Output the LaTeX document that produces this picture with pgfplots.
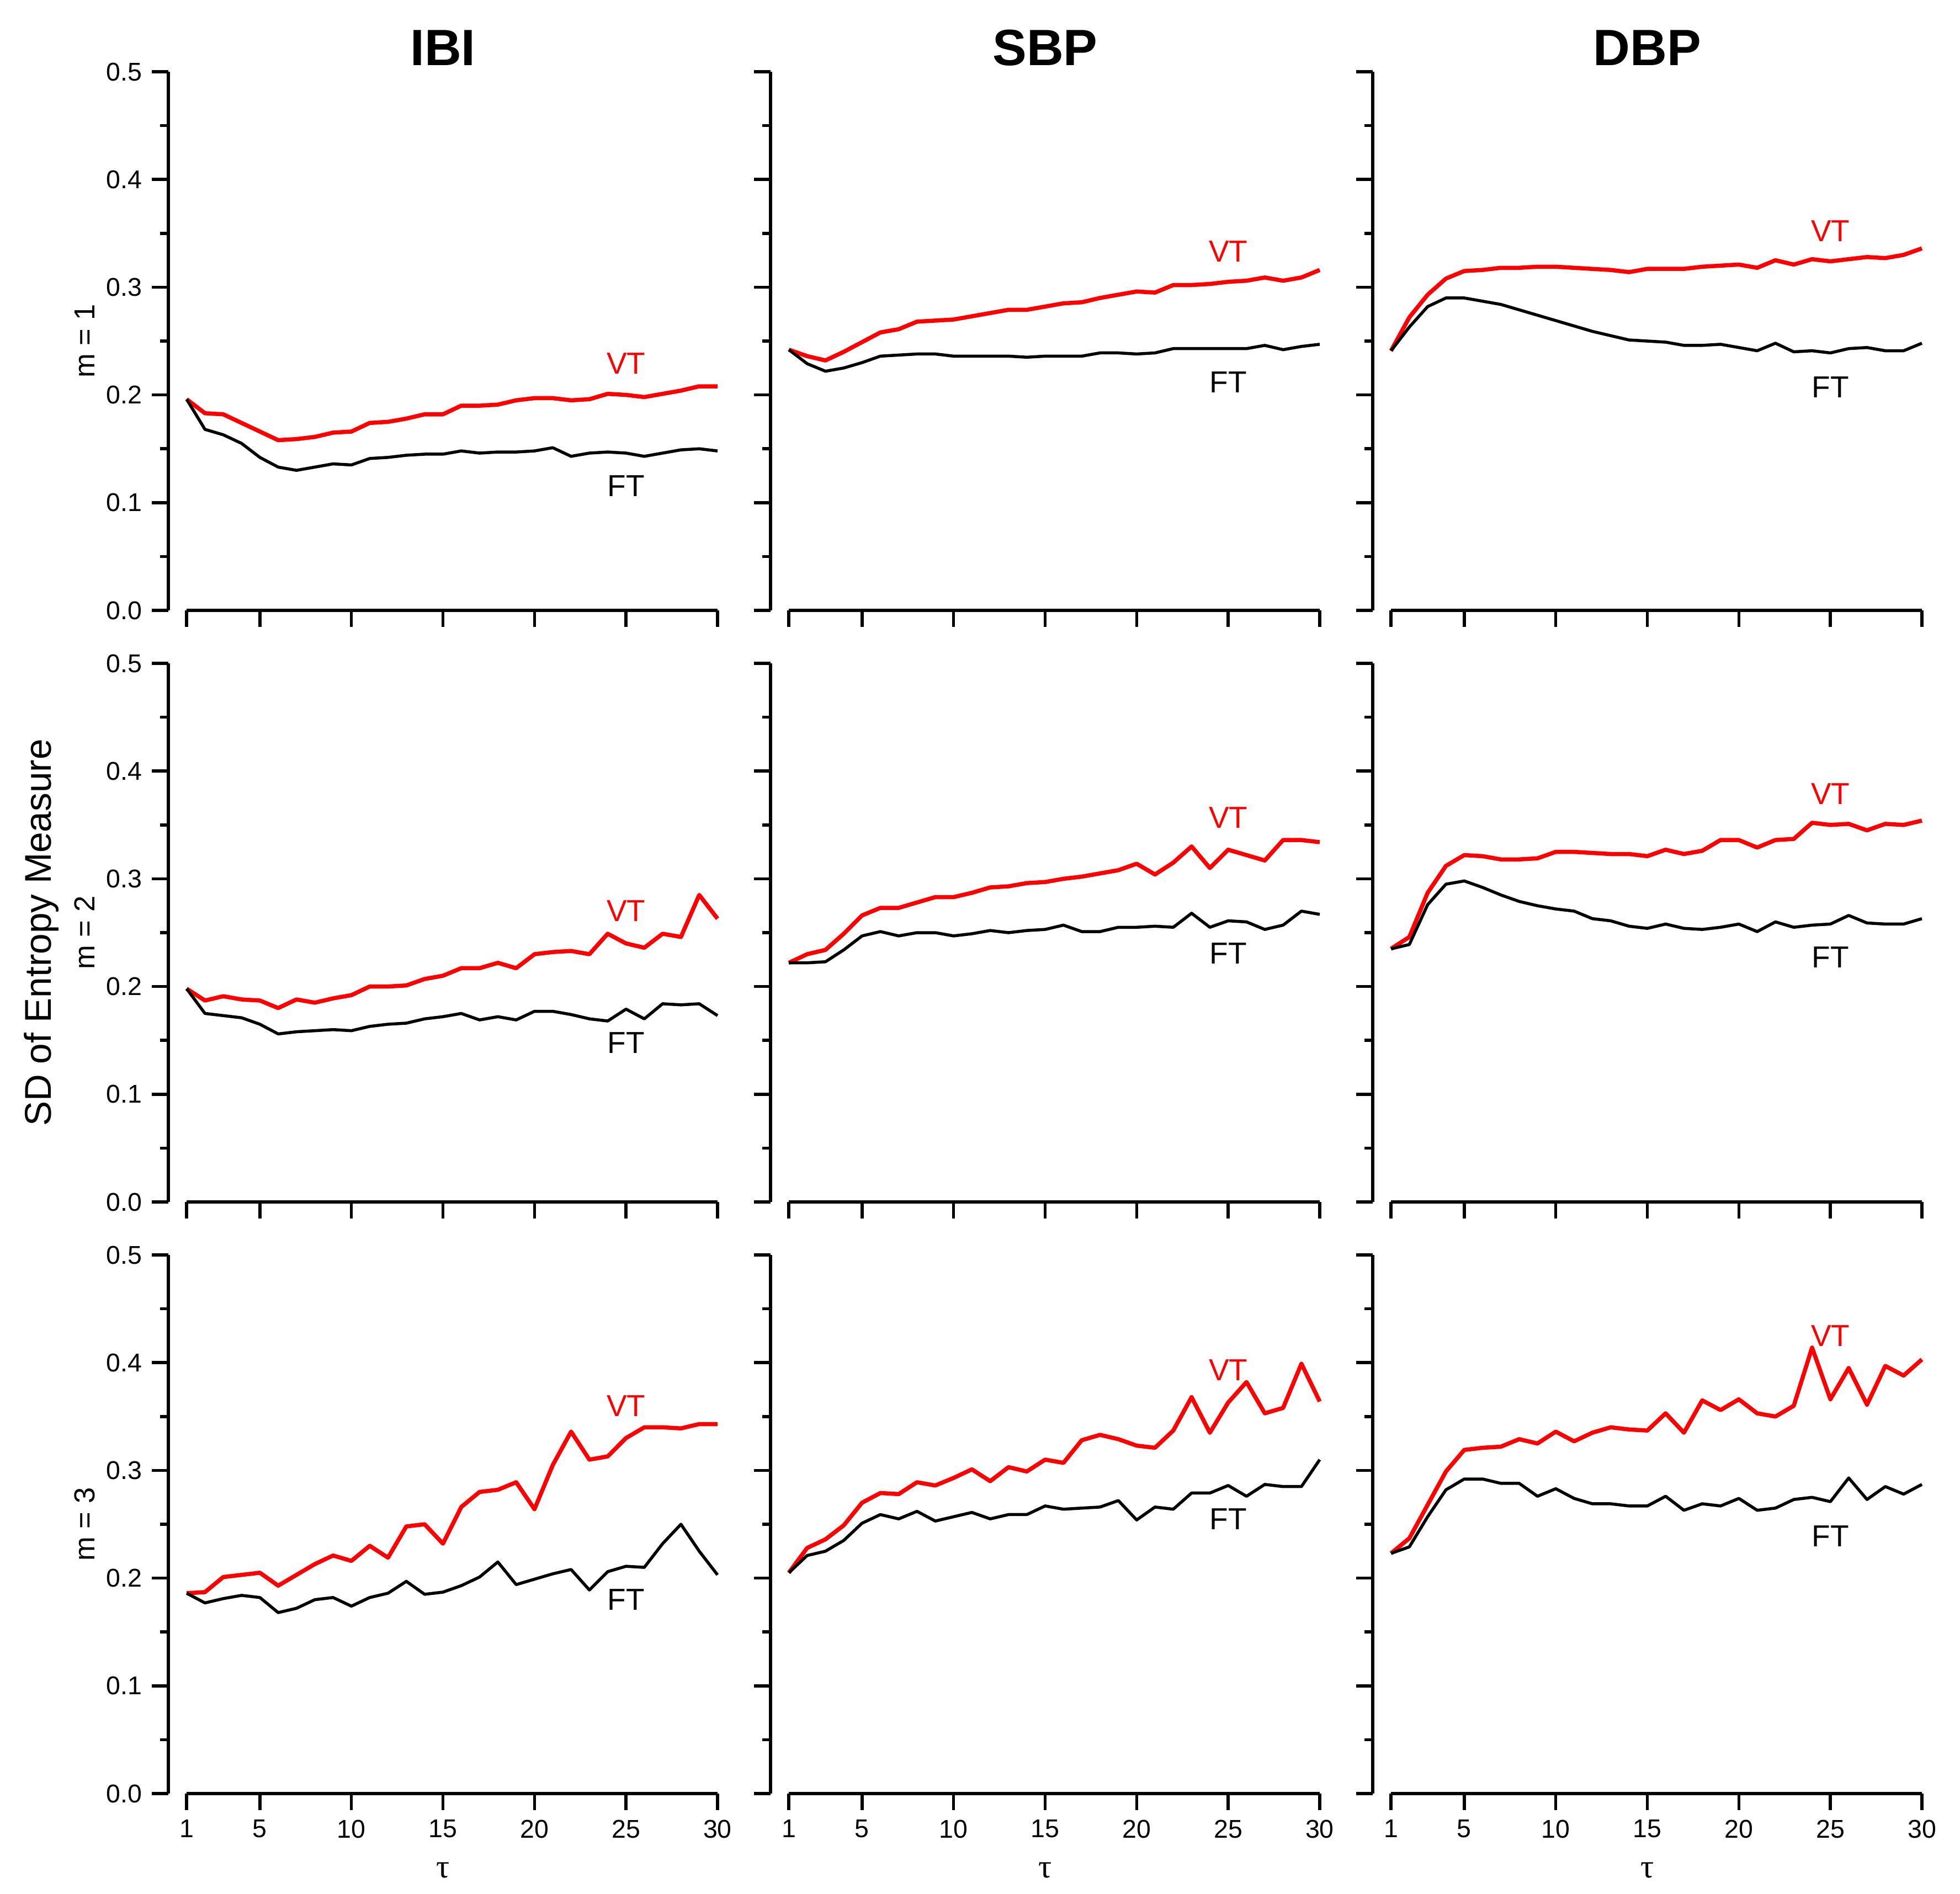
\documentclass[border=0pt]{standalone}
\usepackage{pgfplots}
\usepackage{pgfplotstable}
\pgfplotsset{compat=1.18}
\usepackage{fontspec}
\setmainfont{Liberation Sans}
\newfontfamily\serifgr{Liberation Serif}

\pgfplotstableread{
t a1v a1f b1v b1f c1v c1f a2v a2f b2v b2f c2v c2f a3v a3f b3v b3f c3v c3f
1 0.196 0.196 0.242 0.242 0.241 0.241 0.198 0.198 0.222 0.222 0.235 0.235 0.186 0.186 0.205 0.205 0.223 0.223
2 0.183 0.168 0.236 0.229 0.272 0.263 0.187 0.175 0.230 0.222 0.246 0.239 0.187 0.177 0.228 0.221 0.237 0.229
3 0.182 0.163 0.232 0.222 0.293 0.282 0.191 0.173 0.234 0.223 0.287 0.276 0.201 0.181 0.236 0.225 0.268 0.257
4 0.174 0.155 0.240 0.225 0.308 0.290 0.188 0.171 0.249 0.234 0.312 0.295 0.203 0.184 0.249 0.235 0.299 0.282
5 0.166 0.142 0.249 0.230 0.315 0.290 0.187 0.165 0.266 0.247 0.322 0.298 0.205 0.182 0.270 0.251 0.319 0.292
6 0.158 0.133 0.258 0.236 0.316 0.287 0.180 0.156 0.273 0.251 0.321 0.292 0.193 0.168 0.279 0.259 0.321 0.292
7 0.159 0.130 0.261 0.237 0.318 0.284 0.188 0.158 0.273 0.247 0.318 0.285 0.203 0.172 0.278 0.255 0.322 0.288
8 0.161 0.133 0.268 0.238 0.318 0.279 0.185 0.159 0.278 0.250 0.318 0.279 0.213 0.180 0.289 0.262 0.329 0.288
9 0.165 0.136 0.269 0.238 0.319 0.274 0.189 0.160 0.283 0.250 0.319 0.275 0.221 0.182 0.286 0.253 0.325 0.276
10 0.166 0.135 0.270 0.236 0.319 0.269 0.192 0.159 0.283 0.247 0.325 0.272 0.216 0.174 0.293 0.257 0.336 0.283
11 0.174 0.141 0.273 0.236 0.318 0.264 0.200 0.163 0.287 0.249 0.325 0.270 0.230 0.182 0.301 0.261 0.327 0.274
12 0.175 0.142 0.276 0.236 0.317 0.259 0.200 0.165 0.292 0.252 0.324 0.263 0.219 0.186 0.290 0.255 0.335 0.269
13 0.178 0.144 0.279 0.236 0.316 0.255 0.201 0.166 0.293 0.250 0.323 0.261 0.248 0.197 0.303 0.259 0.340 0.269
14 0.182 0.145 0.279 0.235 0.314 0.251 0.207 0.170 0.296 0.252 0.323 0.256 0.250 0.185 0.299 0.259 0.338 0.267
15 0.182 0.145 0.282 0.236 0.317 0.250 0.210 0.172 0.297 0.253 0.321 0.254 0.232 0.187 0.310 0.267 0.337 0.267
16 0.190 0.148 0.285 0.236 0.317 0.249 0.217 0.175 0.300 0.257 0.327 0.258 0.266 0.193 0.307 0.264 0.353 0.276
17 0.190 0.146 0.286 0.236 0.317 0.246 0.217 0.169 0.302 0.251 0.323 0.254 0.280 0.201 0.328 0.265 0.335 0.263
18 0.191 0.147 0.290 0.239 0.319 0.246 0.222 0.172 0.305 0.251 0.326 0.253 0.282 0.215 0.333 0.266 0.365 0.269
19 0.195 0.147 0.293 0.239 0.320 0.247 0.217 0.169 0.308 0.255 0.336 0.255 0.289 0.194 0.329 0.272 0.356 0.267
20 0.197 0.148 0.296 0.238 0.321 0.244 0.230 0.177 0.314 0.255 0.336 0.258 0.264 0.199 0.323 0.254 0.366 0.274
21 0.197 0.151 0.295 0.239 0.318 0.241 0.232 0.177 0.304 0.256 0.329 0.251 0.305 0.204 0.321 0.266 0.353 0.263
22 0.195 0.143 0.302 0.243 0.325 0.248 0.233 0.174 0.315 0.255 0.336 0.260 0.336 0.208 0.337 0.264 0.350 0.265
23 0.196 0.146 0.302 0.243 0.321 0.240 0.230 0.170 0.330 0.268 0.337 0.255 0.310 0.189 0.368 0.279 0.360 0.273
24 0.201 0.147 0.303 0.243 0.326 0.241 0.249 0.168 0.310 0.255 0.352 0.257 0.313 0.206 0.335 0.279 0.414 0.275
25 0.200 0.146 0.305 0.243 0.324 0.239 0.240 0.179 0.327 0.261 0.350 0.258 0.330 0.211 0.363 0.286 0.366 0.271
26 0.198 0.143 0.306 0.243 0.326 0.243 0.236 0.170 0.322 0.260 0.351 0.266 0.340 0.210 0.382 0.276 0.395 0.293
27 0.201 0.146 0.309 0.246 0.328 0.244 0.249 0.184 0.317 0.253 0.345 0.259 0.340 0.232 0.353 0.287 0.361 0.273
28 0.204 0.149 0.306 0.242 0.327 0.241 0.246 0.183 0.336 0.257 0.351 0.258 0.339 0.250 0.358 0.285 0.397 0.285
29 0.208 0.150 0.309 0.245 0.330 0.241 0.285 0.184 0.336 0.270 0.350 0.258 0.343 0.225 0.399 0.285 0.388 0.278
30 0.208 0.148 0.316 0.247 0.336 0.248 0.263 0.173 0.334 0.267 0.354 0.263 0.343 0.203 0.364 0.310 0.403 0.287
}\data

\newcommand{\lab}{\fontsize{11}{13}\selectfont}
\newcommand{\tl}{\fontsize{9.3}{11}\selectfont}
\newcommand{\ttl}{\fontsize{18.5}{22}\selectfont\bfseries}

\pgfplotsset{panel/.style={
  scale only axis, width=199pt, height=195.2pt,
  anchor=south west,
  xmin=0, xmax=30, ymin=0, ymax=0.5,
  axis x line=bottom, axis y line=left,
  axis line style={-, line width=1.1pt},
  x axis line style={draw=none},
  xtick={1,5,10,15,20,25,30},
  ytick={0,0.1,0.2,0.3,0.4,0.5},
  minor y tick num=1,
  tick align=outside,
  major tick length=6pt, minor tick length=3pt,
  tick style={black, line width=1.1pt},
  minor tick style={black, line width=1.1pt},
  clip=false,
  /pgf/number format/assume math mode=true,
  yticklabel style={/pgf/number format/.cd, fixed, fixed zerofill, precision=1},
  tick label style={font=\tl},
}}

% #1 col, #2 row, #3 prefix, #4 options, #5 VT y, #6 FT y, #7 title
\newcommand{\panel}[7]{%
\begin{axis}[panel, at={(#1*218.2pt,-#2*214.4pt)}, #4]
\addplot[red, line width=1.5pt, line join=round] table[x=t, y=#3v] {\data};
\addplot[black, line width=1.1pt, line join=round] table[x=t, y=#3f] {\data};
\draw[line width=1.1pt] (axis cs:1,0) -- (axis cs:30,0);
\node[red, font=\lab] at (axis cs:25,#5) {VT};
\node[font=\lab] at (axis cs:25,#6) {FT};
\node[anchor=base, font=\ttl, yshift=2.4pt] at (rel axis cs:0.5,1) {#7};
\end{axis}}

\begin{document}
\begin{tikzpicture}
\path[use as bounding box] (-61pt,-465pt) rectangle (649.2pt,221.2pt);
\panel{0}{0}{a1}{xticklabels={}}{0.229}{0.1155}{IBI}
\panel{1}{0}{b1}{xticklabels={}, yticklabels={}}{0.3334}{0.212}{SBP}
\panel{2}{0}{c1}{xticklabels={}, yticklabels={}}{0.3524}{0.207}{DBP}
\panel{0}{1}{a2}{xticklabels={}}{0.270}{0.148}{}
\panel{1}{1}{b2}{xticklabels={}, yticklabels={}}{0.357}{0.231}{}
\panel{2}{1}{c2}{xticklabels={}, yticklabels={}}{0.379}{0.2274}{}
\panel{0}{2}{a3}{}{0.3597}{0.1803}{}
\panel{1}{2}{b3}{yticklabels={}}{0.393}{0.255}{}
\panel{2}{2}{c3}{yticklabels={}}{0.425}{0.239}{}
\node[rotate=90, font=\fontsize{10.5}{12}\selectfont] at (-30.4pt,97.6pt) {m = 1};
\node[rotate=90, font=\fontsize{10.5}{12}\selectfont] at (-30.4pt,-116.8pt) {m = 2};
\node[rotate=90, font=\fontsize{10.5}{12}\selectfont] at (-30.4pt,-331.2pt) {m = 3};
\node[rotate=90, font=\fontsize{13.5}{16}\selectfont] at (-46pt,-116.8pt) {SD of Entropy Measure};
\foreach \c in {0,1,2} {
  \node[font=\serifgr\fontsize{12}{14}\selectfont] at (\c*218.2pt+99.5pt,-428.8pt-27.8pt) {τ};
}
\end{tikzpicture}
\end{document}
